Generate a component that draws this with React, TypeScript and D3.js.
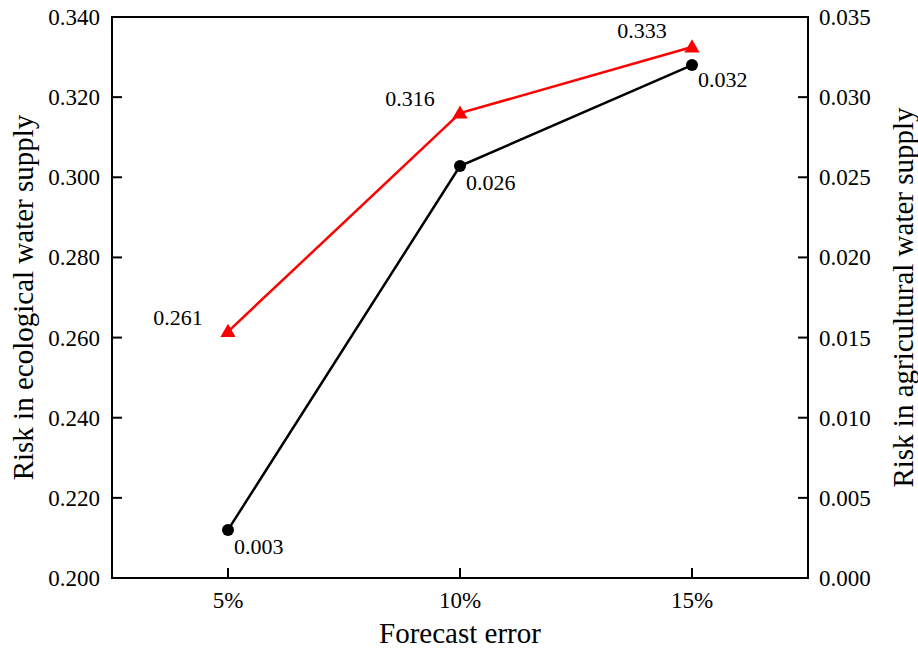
import React from "react";
import * as d3 from "d3";

const categories = ["5%", "10%", "15%"];
const ecoRisk = [0.2615, 0.316, 0.3325];
const ecoLabels = ["0.261", "0.316", "0.333"];
const agriRisk = [0.003, 0.0257, 0.032];
const agriLabels = ["0.003", "0.026", "0.032"];
const leftTicks = [0.2, 0.22, 0.24, 0.26, 0.28, 0.3, 0.32, 0.34];
const rightTicks = [0, 0.005, 0.01, 0.015, 0.02, 0.025, 0.03, 0.035];

const W = 918;
const H = 652;
const margin = { top: 17, right: 110, bottom: 74, left: 112 };
const FONT = "'Liberation Serif', 'Times New Roman', serif";

const App = () => {
  const x = d3
    .scalePoint<string>()
    .domain(categories)
    .range([margin.left, W - margin.right])
    .padding(0.5);
  const yL = d3.scaleLinear().domain([0.2, 0.34]).range([H - margin.bottom, margin.top]);
  const yR = d3.scaleLinear().domain([0, 0.035]).range([H - margin.bottom, margin.top]);

  const x0 = margin.left;
  const x1 = W - margin.right;
  const y0 = H - margin.bottom;
  const y1 = margin.top;
  const tick = 10;

  const ecoLine = d3
    .line<number>()
    .x((_, i) => x(categories[i])!)
    .y((d) => yL(d));
  const agriLine = d3
    .line<number>()
    .x((_, i) => x(categories[i])!)
    .y((d) => yR(d));

  const tri = d3.symbol().type(d3.symbolTriangle).size(100)();

  // label offsets relative to the point
  const ecoOff = [
    [-50, -7],
    [-50, -7],
    [-50, -9],
  ];
  const agriOff = [
    [6, 24],
    [6, 24],
    [6, 22],
  ];

  return (
    <svg
      width={W}
      height={H}
      style={{ position: "absolute", left: 0, top: 0, background: "#fff" }}
      fontFamily={FONT}
    >
      <rect x={0} y={0} width={W} height={H} fill="#fff" />

      {/* lines */}
      <path d={ecoLine(ecoRisk)!} fill="none" stroke="#ff0000" strokeWidth={2.5} />
      <path d={agriLine(agriRisk)!} fill="none" stroke="#000" strokeWidth={2.5} />

      {ecoRisk.map((d, i) => (
        <path
          key={"t" + i}
          d={tri!}
          transform={`translate(${x(categories[i])},${yL(d) + 1})`}
          fill="#ff0000"
        />
      ))}
      {agriRisk.map((d, i) => (
        <circle key={"c" + i} cx={x(categories[i])} cy={yR(d)} r={6} fill="#000" />
      ))}

      {/* value labels */}
      {ecoRisk.map((d, i) => (
        <text
          key={"el" + i}
          x={x(categories[i])! + ecoOff[i][0]}
          y={yL(d) + ecoOff[i][1]}
          fontSize={22}
          textAnchor="middle"
        >
          {ecoLabels[i]}
        </text>
      ))}
      {agriRisk.map((d, i) => (
        <text
          key={"al" + i}
          x={x(categories[i])! + agriOff[i][0]}
          y={yR(d) + agriOff[i][1]}
          fontSize={22}
        >
          {agriLabels[i]}
        </text>
      ))}

      {/* frame */}
      <rect x={x0} y={y1} width={x1 - x0} height={y0 - y1} fill="none" stroke="#000" strokeWidth={2} />

      {/* left ticks */}
      {leftTicks.map((t) => (
        <g key={"l" + t}>
          <line x1={x0} x2={x0 + tick} y1={yL(t)} y2={yL(t)} stroke="#000" strokeWidth={2} />
          <text x={x0 - 12} y={yL(t)} dy="0.35em" textAnchor="end" fontSize={23}>
            {t.toFixed(3)}
          </text>
        </g>
      ))}
      {/* right ticks */}
      {rightTicks.map((t) => (
        <g key={"r" + t}>
          <line x1={x1} x2={x1 - tick} y1={yR(t)} y2={yR(t)} stroke="#000" strokeWidth={2} />
          <text x={x1 + 11} y={yR(t)} dy="0.35em" textAnchor="start" fontSize={23}>
            {t.toFixed(3)}
          </text>
        </g>
      ))}
      {/* x ticks */}
      {categories.map((c) => (
        <g key={"x" + c}>
          <line x1={x(c)} x2={x(c)} y1={y0} y2={y0 - tick} stroke="#000" strokeWidth={2} />
          <text x={x(c)} y={y0 + 30} textAnchor="middle" fontSize={23}>
            {c}
          </text>
        </g>
      ))}

      {/* axis titles */}
      <text x={(x0 + x1) / 2} y={643} textAnchor="middle" fontSize={29}>
        Forecast error
      </text>
      <text
        transform={`translate(33,${(y0 + y1) / 2}) rotate(-90)`}
        textAnchor="middle"
        fontSize={29}
      >
        Risk in ecological water supply
      </text>
      <text
        transform={`translate(913,${(y0 + y1) / 2}) rotate(-90)`}
        textAnchor="middle"
        fontSize={29}
      >
        Risk in agricultural water supply
      </text>
    </svg>
  );
};

export default App;
